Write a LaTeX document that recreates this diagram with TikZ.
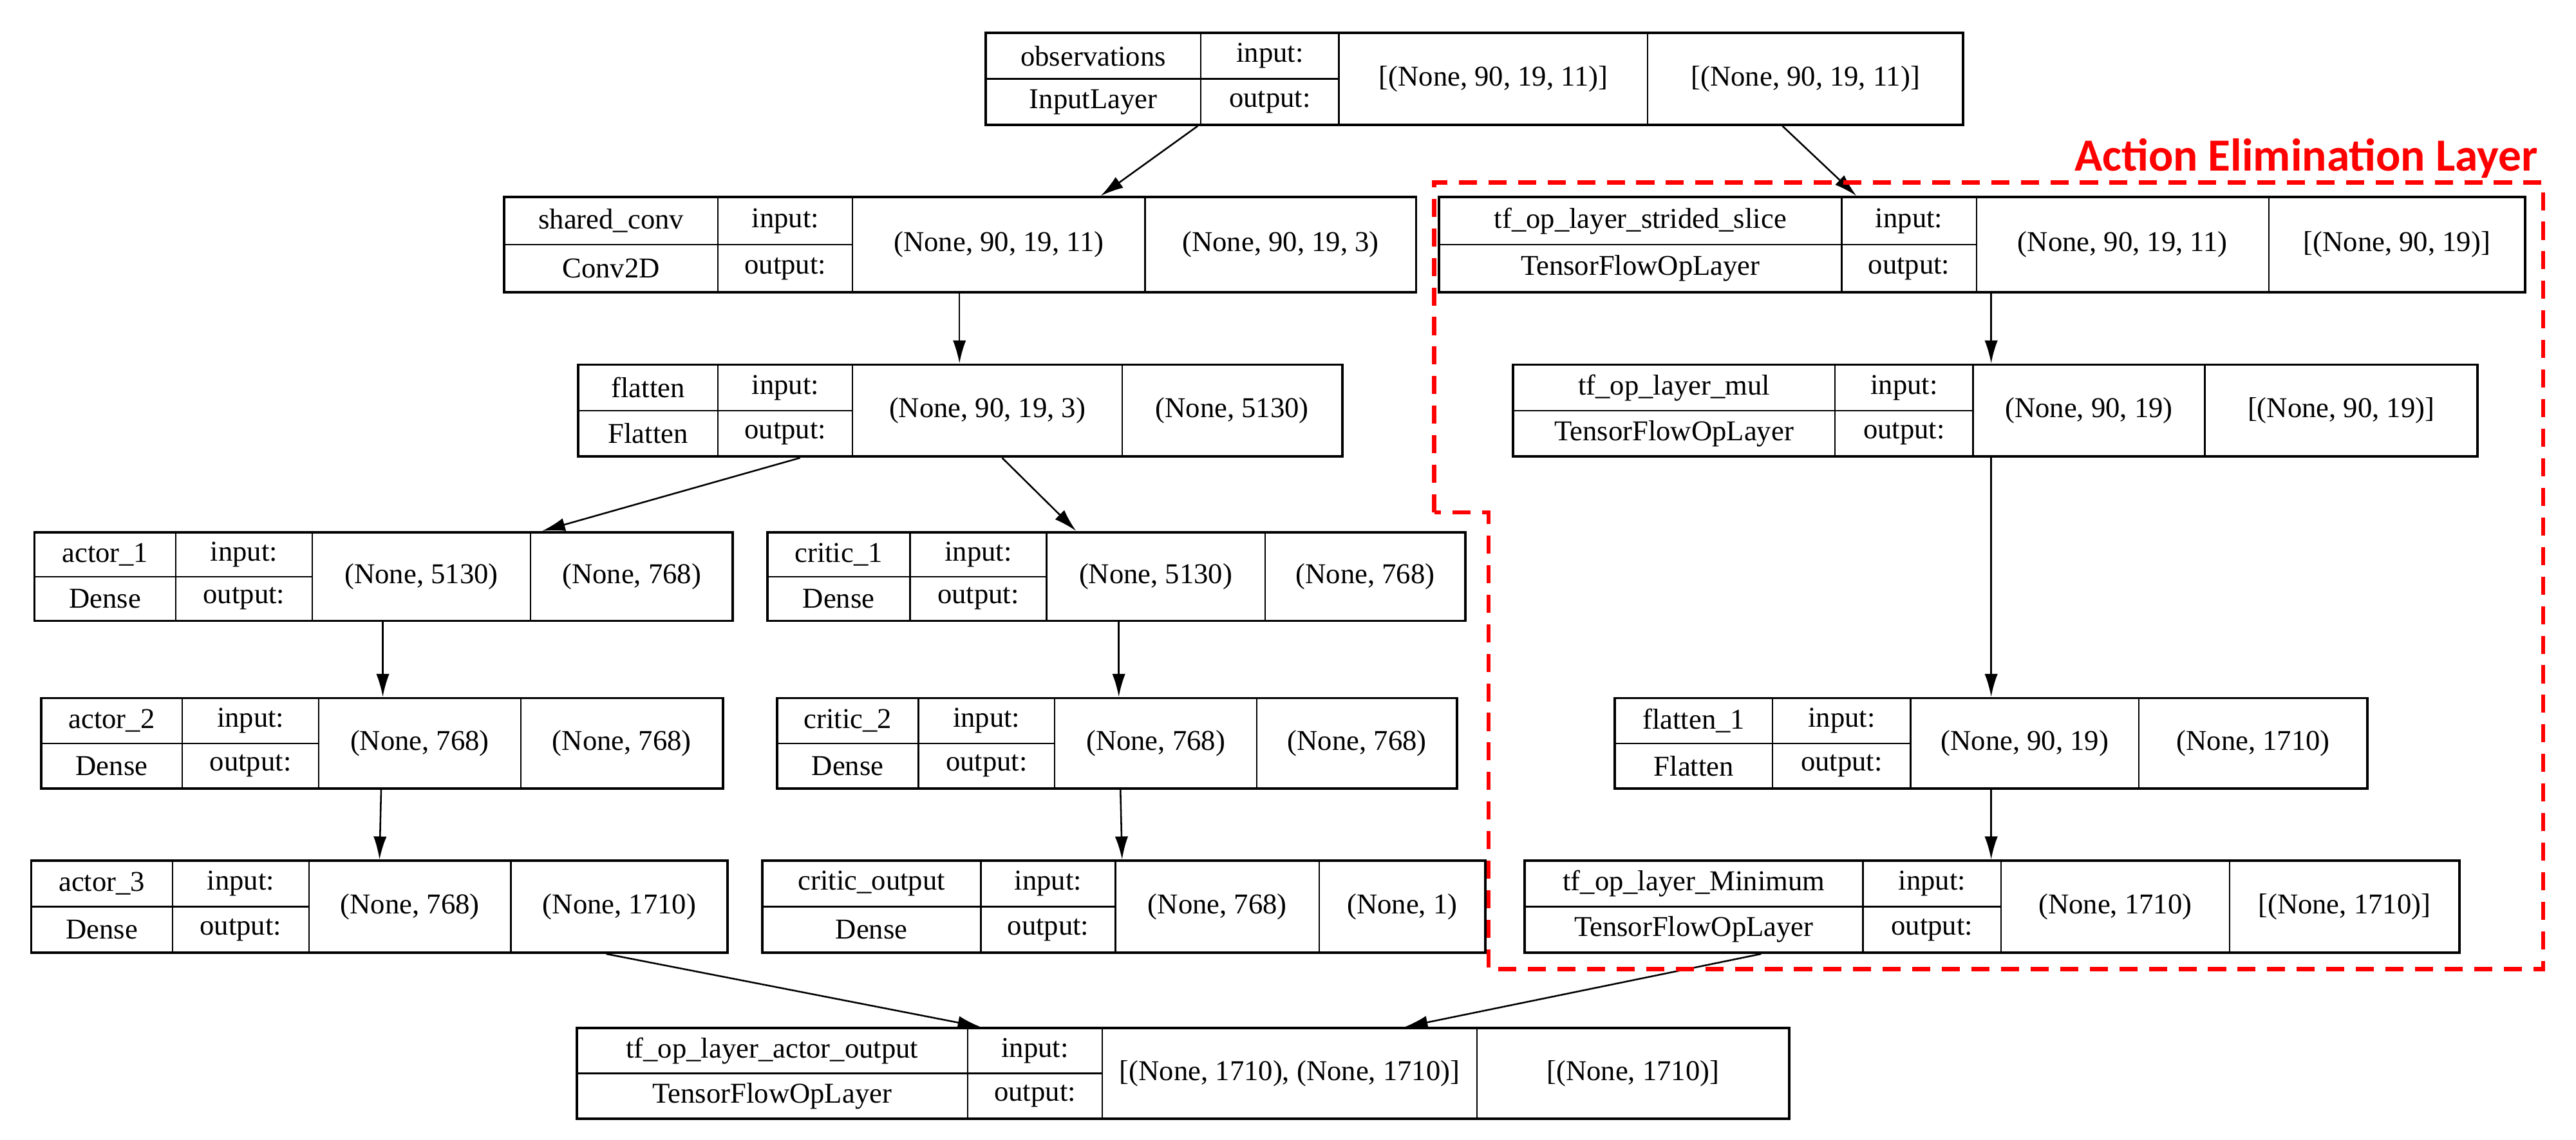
\documentclass[tikz,border=0pt]{standalone}
\usepackage{fontspec}
\setmainfont{Liberation Serif}
\newfontfamily\redfont{Carlito}
\usetikzlibrary{arrows.meta,fit}
\newcommand\ty{}\newcommand\vin{}\newcommand\vout{}
\newcommand\lay[9]{%
 \node[outer, fit={(#2,#7)(#6,#8)}] (#1) {};
 \draw[inner] (#3,#7) -- (#3,#8) (#4,#7) -- (#4,#8) (#5,#7) -- (#5,#8)
   (#2,{(#7+#8)/2}) -- (#4,{(#7+#8)/2});
 \node[txt] (#1-n) at ({(#2+#3)/2},{#7+(#8-#7)/4}) {#9};
 \node[txt] (#1-t) at ({(#2+#3)/2},{#7+3*(#8-#7)/4}) {\ty};
 \node[txt] (#1-i) at ({(#3+#4)/2},{#7+(#8-#7)/4}) {input:};
 \node[txt] (#1-o) at ({(#3+#4)/2},{#7+3*(#8-#7)/4}) {output:};
 \node[txt] (#1-a) at ({(#4+#5)/2},{(#7+#8)/2}) {\vin};
 \node[txt] (#1-b) at ({(#5+#6)/2},{(#7+#8)/2}) {\vout};
}
\begin{document}
\begin{tikzpicture}[x=1pt,y=-1pt,
 outer/.style={draw, line width=1.5pt, inner sep=0pt},
 inner/.style={line width=0.9pt},
 txt/.style={font=\fontsize{17.5}{19}\selectfont, inner sep=0pt},
 arr/.style={line width=1pt, -{Latex[length=14pt,width=8pt]}},
 redbox/.style={draw=red, line width=2.6pt, dash pattern=on 11pt off 7pt}]
\useasboundingbox (0,0) rectangle (1568,694);
\fill[white] (0,0) rectangle (1568,694);
\renewcommand\ty{InputLayer}\renewcommand\vin{[(None, 90, 19, 11)]}\renewcommand\vout{[(None, 90, 19, 11)]}
\lay{obs}{600}{731}{815}{1003}{1195}{20}{76}{observations}
\renewcommand\ty{Conv2D}\renewcommand\vin{(None, 90, 19, 11)}\renewcommand\vout{(None, 90, 19, 3)}
\lay{sc}{307}{437}{519}{697}{862}{120}{178}{shared\_conv}
\renewcommand\ty{TensorFlowOpLayer}\renewcommand\vin{(None, 90, 19, 11)}\renewcommand\vout{[(None, 90, 19)]}
\lay{ss}{876}{1121}{1203}{1381}{1537}{120}{178}{tf\_op\_layer\_strided\_slice}
\renewcommand\ty{Flatten}\renewcommand\vin{(None, 90, 19, 3)}\renewcommand\vout{(None, 5130)}
\lay{fl}{352}{437}{519}{683}{817}{222}{278}{flatten}
\renewcommand\ty{TensorFlowOpLayer}\renewcommand\vin{(None, 90, 19)}\renewcommand\vout{[(None, 90, 19)]}
\lay{mul}{921}{1117}{1201}{1342}{1508}{222}{278}{tf\_op\_layer\_mul}
\renewcommand\ty{Dense}\renewcommand\vin{(None, 5130)}\renewcommand\vout{(None, 768)}
\lay{a1}{21}{107}{190}{323}{446}{324}{378}{actor\_1}
\lay{c1}{467}{554}{637}{770}{892}{324}{378}{critic\_1}
\renewcommand\vin{(None, 768)}
\lay{a2}{25}{111}{194}{317}{440}{425}{480}{actor\_2}
\lay{c2}{473}{559}{642}{765}{887}{425}{480}{critic\_2}
\renewcommand\ty{Flatten}\renewcommand\vin{(None, 90, 19)}\renewcommand\vout{(None, 1710)}
\lay{fl1}{983}{1079}{1163}{1302}{1441}{425}{480}{flatten\_1}
\renewcommand\ty{Dense}\renewcommand\vin{(None, 768)}\renewcommand\vout{(None, 1710)}
\lay{a3}{19}{105}{188}{311}{443}{524}{580}{actor\_3}
\renewcommand\vout{(None, 1)}
\lay{co}{464}{597}{679}{803}{904}{524}{580}{critic\_output}
\renewcommand\ty{TensorFlowOpLayer}\renewcommand\vin{(None, 1710)}\renewcommand\vout{[(None, 1710)]}
\lay{mn}{928}{1134}{1218}{1357}{1497}{524}{580}{tf\_op\_layer\_Minimum}
\renewcommand\vin{[(None, 1710), (None, 1710)]}
\lay{ao}{351}{589}{671}{899}{1089}{626}{681}{tf\_op\_layer\_actor\_output}
% arrows
\draw[arr] (obs.south -| 729,0) -- (sc.north -| 670,0);
\draw[arr] (obs.south -| 1085,0) -- (ss.north -| 1130,0);
\draw[arr] (sc.south -| 584,0) -- (fl.north -| 584,0);
\draw[arr] (fl.south -| 487,0) -- (a1.north -| 330,0);
\draw[arr] (fl.south -| 610,0) -- (c1.north -| 655,0);
\draw[arr] (a1.south -| 233,0) -- (a2.north -| 233,0);
\draw[arr] (c1.south -| 681,0) -- (c2.north -| 681,0);
\draw[arr] (a2.south -| 232,0) -- (a3.north -| 231,0);
\draw[arr] (c2.south -| 682,0) -- (co.north -| 683,0);
\draw[arr] (ss.south -| 1212,0) -- (mul.north -| 1212,0);
\draw[arr] (mul.south -| 1212,0) -- (fl1.north -| 1212,0);
\draw[arr] (fl1.south -| 1212,0) -- (mn.north -| 1212,0);
\draw[arr] (a3.south -| 369,0) -- (ao.north -| 597,0);
\draw[arr] (mn.south -| 1072,0) -- (ao.north -| 855,0);
% red dashed region
\draw[redbox] (873,312) -- (873,111) -- (1548,111) -- (1548,590) -- (906,590) -- (906,312) -- cycle;
\node[red, font=\redfont\bfseries\fontsize{28}{30}\selectfont, anchor=base east, inner sep=0pt] (lbl) at (1545,104) {Action Elimination Layer};
\end{tikzpicture}
\end{document}
